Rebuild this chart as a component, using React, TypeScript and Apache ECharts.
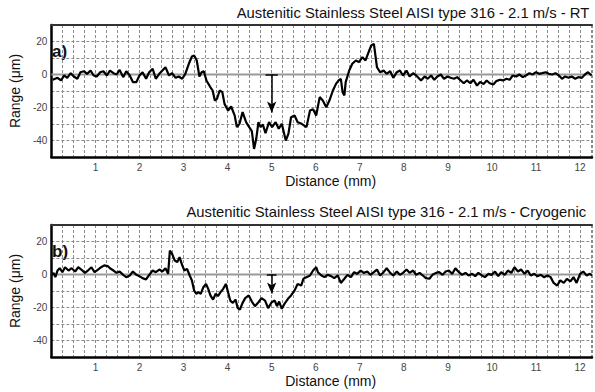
import React, { useEffect, useRef } from "react";
import * as echarts from "echarts";

const FONT = "'Liberation Sans', Arial, sans-serif";
const X_MIN = 0;
const X_MAX = 12.27;
const Y_MIN = -50;
const Y_MAX = 30;

const TOP_TITLE = "Austenitic Stainless Steel AISI type 316 - 2.1 m/s - RT";
const BOTTOM_TITLE = "Austenitic Stainless Steel AISI type 316 - 2.1 m/s - Cryogenic";
const PANEL_LABELS = ["a)", "b)"];

const topDistance = [
  0.03, 0.14, 0.22, 0.29, 0.36, 0.44, 0.51, 0.59, 0.66, 0.74,
  0.81, 0.89, 0.96, 1.03, 1.11, 1.18, 1.26, 1.33, 1.41, 1.48,
  1.55, 1.63, 1.70, 1.78, 1.85, 1.93, 2.00, 2.07, 2.15, 2.22,
  2.30, 2.37, 2.45, 2.52, 2.59, 2.67, 2.74, 2.82, 2.89, 2.97,
  3.04, 3.12, 3.19, 3.24, 3.30, 3.36, 3.41, 3.46, 3.52, 3.60,
  3.66, 3.71, 3.76, 3.82, 3.88, 3.93, 4.01, 4.08, 4.16, 4.21,
  4.27, 4.34, 4.42, 4.49, 4.55, 4.60, 4.65, 4.70, 4.75, 4.80,
  4.86, 4.94, 5.01, 5.09, 5.16, 5.23, 5.32, 5.38, 5.44, 5.52,
  5.59, 5.68,
  5.79, 5.87, 5.94, 6.01, 6.09, 6.16, 6.24, 6.31, 6.39, 6.46,
  6.52, 6.57, 6.61, 6.65, 6.68, 6.76, 6.83, 6.91, 6.98, 7.06,
  7.13, 7.20, 7.26, 7.32, 7.35, 7.39, 7.46, 7.54, 7.61, 7.69,
  7.76, 7.84, 7.91, 7.98, 8.06, 8.13, 8.21, 8.28, 8.39, 8.47,
  8.54, 8.62, 8.69, 8.76, 8.84, 8.91, 8.99, 9.06, 9.14, 9.21,
  9.29, 9.36, 9.43, 9.51, 9.58, 9.66, 9.73, 9.81, 9.88, 9.95,
  10.03, 10.10, 10.18, 10.25, 10.33, 10.40, 10.47, 10.55, 10.62, 10.70,
  10.77, 10.85, 10.92, 11.00, 11.07, 11.14, 11.22, 11.29, 11.37, 11.44,
  11.52, 11.59, 11.66, 11.74, 11.81, 11.89, 11.96, 12.04, 12.11, 12.18,
  12.26,
];
const topRange = [
  -3.2, -2.0, -3.6, -0.6, -2.0, 0.8, -1.2, -2.6, 1.4, 2.0,
  0.4, 2.4, -0.6, -1.2, 1.4, 2.0, -0.6, 2.4, 0.8, 0,
  2.8, -1.6, 2.0, -0.6, -4.6, -4.6, -0.6, 1.4, -2.6, 1.4,
  3.4, -2.6, 0.4, 2.4, 4.4, -0.6, 0.8, -2.0, -1.2, -2.6,
  0.4, 6.5, 10.9, 11.5, 8.5, -1.2, 1.4, 2.0, -3.6, -7.3,
  -9.7, -15.8, -14.7, -9.7, -10.7, -17.8, -21.8, -19.4, -24.8, -31.9,
  -29.9, -22.8, -28.9, -31.9, -34.3, -45.1, -39.0, -28.9, -31.9, -30.3,
  -35.6, -28.9, -31.9, -28.9, -32.9, -29.9, -40.0, -36.0, -25.9, -24.8,
  -28.9, -29.9,
  -31.9, -21.8, -21.0, -24.8, -13.7, -15.8, -19.8, -15.8, -9.7, -5.7,
  -3.6, -2.6, -10.7, -12.7, -4.6, 2.4, 6.5, 8.5, 7.5, 10.5,
  8.5, 13.5, 17.6, 18.6, 12.5, 4.4, 1.4, 2.4, 0.4, 2.0,
  -2.0, 1.4, 2.4, -0.6, 2.4, -1.2, 0.8, -0.6, -3.6, -1.2,
  -2.6, -0.6, -3.2, -1.2, 0, -2.6, -1.2, -2.0, -2.6, -1.6,
  -3.6, -5.3, -3.6, -5.3, -3.2, -6.7, -4.6, -5.7, -3.6, -5.3,
  -6.1, -4.0, -3.2, -3.6, -2.6, -3.2, -0.6, -1.2, 0, -1.6,
  -0.6, 0.8, 0, 1.4, 0.4, 0.8, 1.4, 0.4, 0, 0.8,
  -0.6, -2.6, -1.2, -2.0, -1.2, -2.6, -1.6, -2.0, 0, 1.4,
  -0.6,
];

const bottomDistance = [
  0.00, 0.05, 0.09, 0.14, 0.19, 0.25, 0.31, 0.39, 0.46, 0.54,
  0.61, 0.68, 0.76, 0.83, 0.91, 0.98, 1.06, 1.13, 1.20, 1.28,
  1.33, 1.41, 1.48, 1.55, 1.63, 1.70, 1.78, 1.85, 1.93, 2.00,
  2.07, 2.15, 2.22, 2.30, 2.37, 2.45, 2.52, 2.59, 2.65, 2.69,
  2.74, 2.80, 2.86, 2.91, 2.97, 3.02, 3.08, 3.14, 3.19, 3.24,
  3.29, 3.34, 3.39, 3.45, 3.51, 3.56, 3.61, 3.67, 3.73, 3.78,
  3.84, 3.90, 3.96, 4.01, 4.06, 4.12, 4.18, 4.23, 4.28, 4.34,
  4.40, 4.48, 4.55, 4.62, 4.70, 4.77, 4.85, 4.92, 5.00, 5.07,
  5.12, 5.17, 5.23, 5.29, 5.37, 5.44, 5.52, 5.59, 5.67,
  5.72, 5.79, 5.87, 5.94, 6.01, 6.05, 6.13, 6.20, 6.27, 6.35,
  6.42, 6.50, 6.57, 6.65, 6.72, 6.80, 6.87, 6.94, 7.02, 7.09,
  7.17, 7.24, 7.32, 7.39, 7.46, 7.54, 7.61, 7.69, 7.76, 7.84,
  7.91, 7.98, 8.06, 8.13, 8.21, 8.28, 8.36, 8.43, 8.50, 8.58,
  8.65, 8.73, 8.80, 8.88, 8.95, 9.02, 9.10, 9.17, 9.25, 9.32,
  9.40, 9.47, 9.55, 9.62, 9.69, 9.77, 9.84, 9.92, 9.99, 10.07,
  10.14, 10.21, 10.29, 10.36, 10.44, 10.51, 10.59, 10.66, 10.74, 10.81,
  10.88, 10.96, 11.03, 11.11, 11.18, 11.26, 11.33, 11.40, 11.48, 11.55,
  11.63, 11.70, 11.78, 11.85, 11.92, 12.00, 12.07, 12.15, 12.22, 12.27,
];
const bottomRange = [
  -0.6, 1.0, -1.6, 2.4, 3.8, 1.4, 4.4, 2.4, 3.8, 1.8,
  4.4, 3.0, 1.0, 2.4, 4.4, 1.4, 3.0, 4.4, 5.5, 5.1,
  3.8, 2.4, 1.0, 1.8, -0.2, -1.6, -0.6, 1.8, -0.2, -1.0,
  -2.2, -3.0, -0.2, 2.4, 1.4, 3.0, 1.8, 3.8, 0.4, 14.5,
  12.5, 8.5, 7.5, 10.5, 5.5, 2.4, 3.4, -0.6, -3.6, -9.7,
  -11.7, -10.7, -11.7, -7.7, -5.7, -8.7, -12.7, -15.2, -11.7, -13.1,
  -10.7, -8.7, -5.7, -10.7, -15.8, -17.2, -15.2, -20.4, -21.2, -17.2,
  -14.3, -12.7, -16.4, -19.2, -16.8, -14.3, -15.8, -20.4, -16.8, -15.8,
  -19.2, -16.4, -20.8, -17.8, -14.7, -12.7, -9.7, -5.7, -6.7,
  -2.6, -1.6, -0.6, 2.4, 4.4, 1.4, -0.6, -1.6, -0.2, -1.0,
  -2.2, -0.6, -5.1, -2.6, -0.2, -1.6, 1.4, 0.4, 2.4, 1.0,
  1.8, -0.2, 1.4, 3.0, -0.6, 1.4, 3.8, 1.0, -0.6, 1.8,
  -0.2, 1.0, 3.0, 1.0, 2.4, -0.2, 1.0, -0.6, -2.2, -2.6,
  -0.2, 1.0, 1.4, -0.2, 1.8, 2.4, 0.4, 3.8, 1.4, -0.2,
  1.0, -0.6, 0.4, -1.0, 1.0, -0.6, -1.6, 0.4, -0.2, 1.8,
  -1.0, 1.4, -0.2, 2.4, 1.0, 4.4, 1.8, 3.0, 0.4, 2.4,
  -0.6, 0.4, -1.0, -0.2, -1.6, -0.6, -1.6, -5.1, -6.7, -3.6,
  -5.1, -2.6, -4.2, -1.6, -5.1, 0.4, 1.8, -0.6, 0.4, -0.6,
];

// arrow markers: x position, start value, end value, T-bar half width (mm)
const arrowX = [5, 5];
const arrowFrom = [0, 0];
const arrowTo = [-23, -11.5];
const arrowBarHalf = [0.14, 0.11];

const GRID_TOPS = [25, 225];
const GRID_LEFT = 42;
const GRID_WIDTH = 550;
const GRID_HEIGHT = 132;

const zip = (xs: number[], ys: number[]) => xs.map((x, i) => [x, ys[i]]);

export default function App() {
  const ref = useRef<HTMLDivElement>(null);

  useEffect(() => {
    if (!ref.current) return;
    const chart = echarts.init(ref.current, undefined, { renderer: "svg" });
    const gridLine = { color: "#8c8c8c", type: [3, 2] as any, width: 1 };
    const profiles = [zip(topDistance, topRange), zip(bottomDistance, bottomRange)];

    const xAxes: any[] = [];
    const yAxes: any[] = [];
    const series: any[] = [];
    [0, 1].forEach((i) => {
      xAxes.push({
        type: "value",
        gridIndex: i,
        min: X_MIN,
        max: X_MAX,
        interval: 1,
        name: "Distance (mm)",
        nameLocation: "middle",
        nameGap: 17,
        nameTextStyle: { fontSize: 14, color: "#111", fontFamily: FONT, padding: [0, 0, 0, 18] },
        axisLine: { show: true, onZero: false, lineStyle: { color: "#000", width: 2.5 } },
        axisTick: { show: false },
        axisLabel: {
          fontSize: 10,
          color: "#444",
          fontFamily: FONT,
          margin: 5,
          showMinLabel: false,
          showMaxLabel: false,
        },
        splitLine: { show: true, lineStyle: gridLine },
        minorTick: { show: false, splitNumber: 4 },
        minorSplitLine: { show: true, lineStyle: gridLine },
      });
      xAxes.push({
        type: "value",
        gridIndex: i,
        position: "top",
        min: X_MIN,
        max: X_MAX,
        interval: 1,
        axisLine: { show: true, onZero: false, lineStyle: { color: "#333", width: 2 } },
        axisTick: { show: false },
        axisLabel: { show: false },
        splitLine: { show: false },
      });
      yAxes.push({
        type: "value",
        gridIndex: i,
        min: Y_MIN,
        max: Y_MAX,
        interval: 10,
        name: "Range (μm)",
        nameLocation: "middle",
        nameRotate: 90,
        nameGap: 22,
        nameTextStyle: { fontSize: 14, color: "#111", fontFamily: FONT },
        axisLine: { show: true, onZero: false, lineStyle: { color: "#000", width: 2.5 } },
        axisTick: { show: false },
        axisLabel: {
          fontSize: 10,
          color: "#444",
          fontFamily: FONT,
          margin: 4,
          formatter: (v: number) => (v % 20 === 0 ? String(v) : ""),
        },
        splitLine: { show: true, lineStyle: gridLine },
      });
      series.push({
        type: "line",
        xAxisIndex: i * 2,
        yAxisIndex: i,
        data: [
          [X_MIN, 0],
          [X_MAX, 0],
        ],
        symbol: "none",
        silent: true,
        lineStyle: { color: "#9a9a9a", width: 2 },
        z: 1,
      });
      series.push({
        type: "line",
        xAxisIndex: i * 2,
        yAxisIndex: i,
        data: profiles[i],
        symbol: "none",
        showSymbol: false,
        lineStyle: { color: "#000", width: 2.2 },
        z: 3,
        markLine: {
          silent: true,
          symbol: "none",
          label: { show: false },
          lineStyle: { color: "#000", width: 1.5, type: "solid" },
          data: [
            [
              { coord: [arrowX[i], arrowFrom[i]] },
              { coord: [arrowX[i], arrowTo[i]], symbol: "arrow", symbolSize: [7, 11] },
            ],
            [
              { coord: [arrowX[i] - arrowBarHalf[i], arrowFrom[i]] },
              { coord: [arrowX[i] + arrowBarHalf[i], arrowFrom[i]] },
            ],
          ],
        },
      });
    });

    chart.setOption({
      animation: false,
      backgroundColor: "#fff",
      title: [
        {
          text: TOP_TITLE,
          right: 5,
          top: 5,
          padding: 0,
          textStyle: { fontSize: 14.8, fontWeight: "normal", color: "#111", fontFamily: FONT },
        },
        {
          text: BOTTOM_TITLE,
          right: 8,
          top: 204,
          padding: 0,
          textStyle: { fontSize: 14.8, fontWeight: "normal", color: "#111", fontFamily: FONT },
        },
      ],
      grid: GRID_TOPS.map((t) => ({
        left: GRID_LEFT,
        top: t,
        width: GRID_WIDTH,
        height: GRID_HEIGHT,
        containLabel: false,
      })),
      xAxis: xAxes,
      yAxis: yAxes,
      series,
      graphic: GRID_TOPS.map((t, i) => ({
        type: "text",
        left: 52,
        top: t + 18,
        style: { text: PANEL_LABELS[i], font: `bold 17px ${FONT}`, fill: "#111" },
      })),
    });
    return () => chart.dispose();
  }, []);

  return (
    <div
      ref={ref}
      style={{ position: "fixed", left: 0, top: 0, width: 595, height: 392, background: "#fff" }}
    />
  );
}
